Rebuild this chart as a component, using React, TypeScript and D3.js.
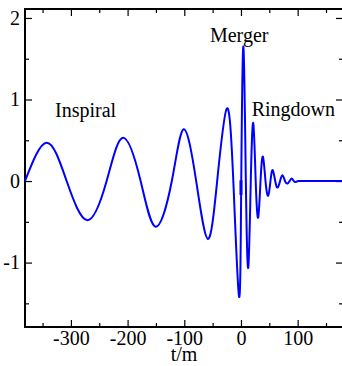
import React, { useEffect, useRef } from 'react';
import * as d3 from 'd3';

// waveform: extrema and zero crossings (t/m, h)
const waveT = [
  -381, -342.6, -307.5, -271, -237, -208, -177, -150.5, -122, -101, -79, -58.5,
  -42, -25, -13.5, -3.3, 0.5, 4.3, 8.6, 12.9, 17.3, 21.7, 26, 30.3, 34.5, 38.7,
  43.3, 48, 52, 56, 60.4, 64.7, 69, 73.5, 77.7, 82, 85.8, 89.5, 93.2, 97, 101,
  110, 130, 150, 180,
];
const waveH = [
  0, 0.47, 0, -0.48, 0, 0.53, 0, -0.56, 0, 0.635, 0, -0.71,
  0, 0.89, 0, -1.42, 0, 1.65, 0, -1.06, 0, 0.71, 0, -0.45, 0, 0.3,
  0, -0.18, 0, 0.135, 0, -0.08, 0, 0.07, 0, -0.03, 0, 0.03, 0, -0.01, 0,
  0, 0, 0, 0,
];
// little thick blip on the trace at t = 0
const blipT = [0, 0];
const blipH = [0.01, -0.17];

const xMajor = [-300, -200, -100, 0, 100];
const xMinor = [-350, -250, -150, -50, 50, 150];
const yMajor = [-1, 0, 1, 2];
const yMinor = [-1.5, -0.5, 0.5, 1.5];

const labelText = ['Inspiral', 'Merger', 'Ringdown'];
const labelT = [-328, -54.7, 18.9];
const labelH = [0.785, 1.71, 0.8];

const W = 342;
const H = 366;
const margin = { top: 9, right: -1, bottom: 39, left: 25 };
const FONT = '"Liberation Serif", "Times New Roman", serif';

// plain hyphen for negatives, like the original
const plain = (d: any) => String(d);

const App: React.FC = () => {
  const svgRef = useRef<SVGSVGElement>(null);

  useEffect(() => {
    const svg = d3.select(svgRef.current);
    svg.selectAll('*').remove();

    const x = d3.scaleLinear().domain([-381, 180]).range([margin.left, W - margin.right]);
    const y = d3.scaleLinear().domain([-1.79, 2.11]).range([H - margin.bottom, margin.top]);
    const bottom = H - margin.bottom;
    const right = W - margin.right;

    const styleAxis = (g: any) => {
      g.select('.domain').remove();
      g.selectAll('line').attr('stroke', '#000').attr('stroke-width', 1.2);
      g.selectAll('text')
        .attr('fill', '#000')
        .style('font-family', FONT)
        .style('font-size', '20px');
    };

    // bottom
    svg.append('g')
      .attr('transform', `translate(0,${bottom})`)
      .call(d3.axisBottom(x).tickValues(xMajor).tickSize(-7).tickPadding(4).tickFormat(plain))
      .call(styleAxis);
    svg.append('g')
      .attr('transform', `translate(0,${bottom})`)
      .call(d3.axisBottom(x).tickValues(xMinor).tickSize(-4).tickFormat(() => ''))
      .call(styleAxis);
    // top
    svg.append('g')
      .attr('transform', `translate(0,${margin.top})`)
      .call(d3.axisTop(x).tickValues(xMajor).tickSize(-7).tickFormat(() => ''))
      .call(styleAxis);
    svg.append('g')
      .attr('transform', `translate(0,${margin.top})`)
      .call(d3.axisTop(x).tickValues(xMinor).tickSize(-4).tickFormat(() => ''))
      .call(styleAxis);
    // left
    svg.append('g')
      .attr('transform', `translate(${margin.left},0)`)
      .call(d3.axisLeft(y).tickValues(yMajor).tickSize(-7).tickPadding(5).tickFormat(plain))
      .call(styleAxis);
    svg.append('g')
      .attr('transform', `translate(${margin.left},0)`)
      .call(d3.axisLeft(y).tickValues(yMinor).tickSize(-4).tickFormat(() => ''))
      .call(styleAxis);
    // right
    svg.append('g')
      .attr('transform', `translate(${right},0)`)
      .call(d3.axisRight(y).tickValues(yMajor).tickSize(-7).tickFormat(() => ''))
      .call(styleAxis);
    svg.append('g')
      .attr('transform', `translate(${right},0)`)
      .call(d3.axisRight(y).tickValues(yMinor).tickSize(-4).tickFormat(() => ''))
      .call(styleAxis);

    // frame
    svg.append('rect')
      .attr('x', margin.left)
      .attr('y', margin.top)
      .attr('width', right - margin.left)
      .attr('height', bottom - margin.top)
      .attr('fill', 'none')
      .attr('stroke', '#000')
      .attr('stroke-width', 2);

    // waveform
    const pts = waveT.map((t, i) => [t, waveH[i]] as [number, number]);
    const line = d3.line<[number, number]>()
      .x((d) => x(d[0]))
      .y((d) => y(d[1]))
      .curve(d3.curveNatural);
    svg.append('path')
      .datum(pts)
      .attr('d', line)
      .attr('fill', 'none')
      .attr('stroke', '#0000ff')
      .attr('stroke-width', 2);

    const blip = blipT.map((t, i) => [t, blipH[i]] as [number, number]);
    svg.append('path')
      .datum(blip)
      .attr('d', d3.line<[number, number]>().x((d) => x(d[0])).y((d) => y(d[1])))
      .attr('fill', 'none')
      .attr('stroke', '#0000ff')
      .attr('stroke-width', 3);

    // phase labels
    svg.selectAll('.phase')
      .data(labelText)
      .enter()
      .append('text')
      .attr('class', 'phase')
      .attr('x', (_d, i) => x(labelT[i]))
      .attr('y', (_d, i) => y(labelH[i]))
      .style('font-family', FONT)
      .style('font-size', '20px')
      .attr('fill', '#000')
      .text((d) => d);

    // axis title
    svg.append('text')
      .attr('x', (margin.left + right) / 2)
      .attr('y', 361)
      .attr('text-anchor', 'middle')
      .style('font-family', FONT)
      .style('font-size', '20px')
      .attr('fill', '#000')
      .text('t/m');
  }, []);

  return (
    <svg
      ref={svgRef}
      width={W}
      height={H}
      style={{ position: 'absolute', left: 0, top: 0, background: '#fff' }}
    />
  );
};

export default App;
